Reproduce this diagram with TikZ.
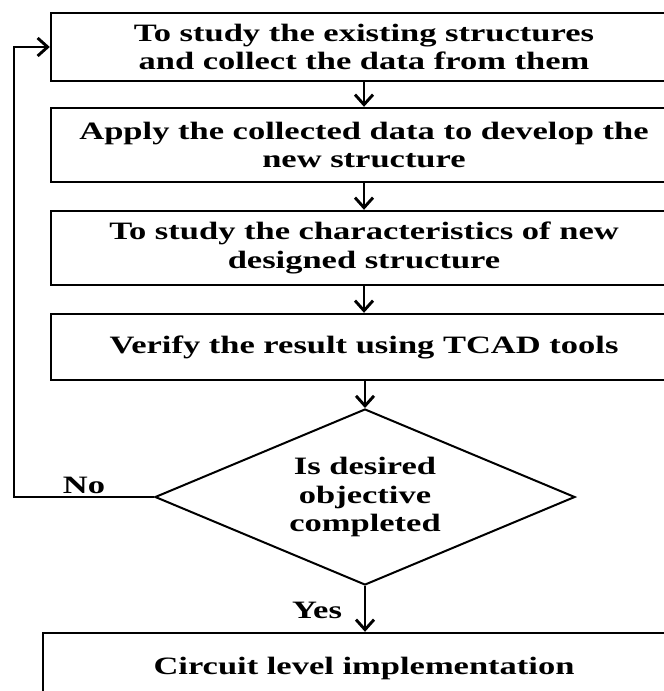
\documentclass[tikz,border=0pt]{standalone}
\usepackage{fontspec}
\setmainfont{Liberation Serif}[FakeStretch=1.38]
\usetikzlibrary{arrows.meta,shapes.geometric}

\begin{document}
\begin{tikzpicture}[x=1pt,y=-1pt,
  txt/.style={font=\fontsize{25}{28.5}\selectfont\bfseries},
  stepbox/.style={draw, line width=2.4pt, minimum width=626pt, align=center,
    inner sep=0pt, txt},
  decision/.style={draw, diamond, line width=2pt, minimum width=420pt,
    minimum height=176pt, inner sep=0pt},
  flow/.style={line width=2.9pt, -{Straight Barb[length=10pt,width=18pt,line width=2.9pt]}},
  lbl/.style={inner sep=0pt, align=center, txt}]
\useasboundingbox (0,0) rectangle (664,691);
\clip (0,0) rectangle (664,691);

% process steps (their right sides run past the page edge)
\node[stepbox, minimum height=68pt] (s1) at (364,47)
  {To study the existing structures\\and collect the data from them};
\node[stepbox, minimum height=74pt] (s2) at (364,145)
  {Apply the collected data to develop the\\new structure};
\node[stepbox, minimum height=74pt] (s3) at (364,248)
  {To study the characteristics of new\\designed structure};
\node[stepbox, minimum height=66pt] (s4) at (364,347)
  {Verify the result using TCAD tools};

% decision
\node[decision] (d) at (365,497) {};
\node[lbl] (dq) at (d.center) {Is desired\\objective\\completed};

\node[stepbox, minimum width=642pt, minimum height=70pt] (s5) at (364,668)
  {Circuit level implementation};

% corner of the feedback loop
\coordinate (lp) at (14,47);

\draw[flow] (s1) -- (s2);
\draw[flow] (s2) -- (s3);
\draw[flow] (s3) -- (s4);
\draw[flow] (s4.south -| d.north) -- (d.north);
\draw[flow] (d.south) -- (s5.north -| d.south);
\draw[flow] (d.west) -| (lp) -- (s1.west);

\node[lbl] (no) at (84,485) {No};
\node[lbl] (yes) at (317,610) {Yes};
\end{tikzpicture}
\end{document}
